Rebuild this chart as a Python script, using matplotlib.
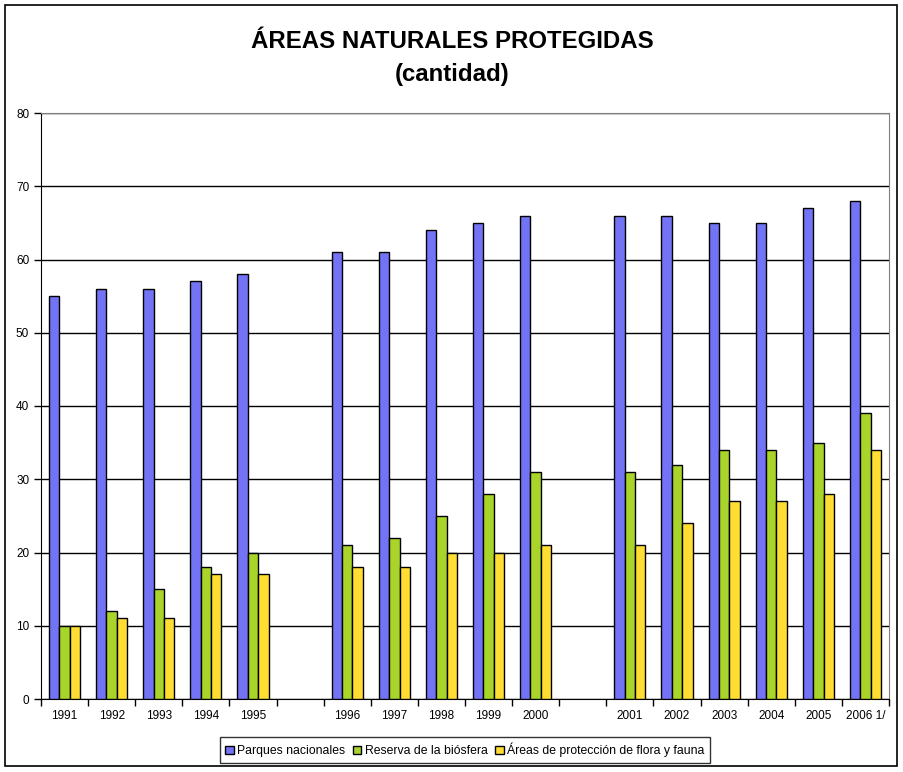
import numpy as np
import matplotlib.pyplot as plt
from matplotlib.patches import Rectangle

plt.rcParams['font.family'] = ['Liberation Sans', 'DejaVu Sans']

# empty strings are the blank slots between the year groups
years = ['1991', '1992', '1993', '1994', '1995', '',
         '1996', '1997', '1998', '1999', '2000', '',
         '2001', '2002', '2003', '2004', '2005', '2006 1/']
parques = [55, 56, 56, 57, 58, None, 61, 61, 64, 65, 66, None,
           66, 66, 65, 65, 67, 68]
reserva = [10, 12, 15, 18, 20, None, 21, 22, 25, 28, 31, None,
           31, 32, 34, 34, 35, 39]
flora = [10, 11, 11, 17, 17, None, 18, 18, 20, 20, 21, None,
         21, 24, 27, 27, 28, 34]

series = [
    ('Parques nacionales', parques, '#7373F5'),
    ('Reserva de la biósfera', reserva, '#A9D42A'),
    ('Áreas de protección de flora y fauna', flora, '#FFDD33'),
]

W, H = 904, 772
fig = plt.figure(figsize=(W / 100, H / 100), dpi=100)
ax = fig.add_axes([41 / W, 1 - 699 / H, (889 - 41) / W, (699 - 113) / H])

x = np.arange(len(years))
bw = 0.22
for i, (name, vals, color) in enumerate(series):
    xs = [xi + (i - 1) * bw for xi, v in zip(x, vals) if v is not None]
    vs = [v for v in vals if v is not None]
    ax.bar(xs, vs, bw, color=color, edgecolor='black', linewidth=1.0,
           label=name, zorder=3)

ax.set_xlim(-0.5, len(years) - 0.5)
ax.set_ylim(0, 80)
ax.set_yticks(range(0, 81, 10))
ax.yaxis.grid(True, color='black', linewidth=1.0, zorder=0)
ax.set_xticks(x)
ax.set_xticklabels(years, fontsize=8.5)
ax.set_xticks(np.arange(-0.5, len(years), 1), minor=True)
ax.tick_params(axis='x', which='major', length=0, pad=8)
ax.tick_params(axis='x', which='minor', length=5, width=1, direction='out')
ax.tick_params(axis='y', labelsize=8.5, length=5, width=1, direction='out')

for s in ('top', 'right'):
    ax.spines[s].set_color('#808080')
for s in ('left', 'bottom'):
    ax.spines[s].set_color('black')

fig.text(0.5, 1 - 42 / H, 'ÁREAS NATURALES PROTEGIDAS', ha='center',
         va='center', fontsize=17.3, fontweight='bold')
fig.text(0.5, 1 - 75 / H, '(cantidad)', ha='center', va='center',
         fontsize=17.3, fontweight='bold')

leg = fig.legend(loc='center', bbox_to_anchor=(465 / W, 1 - 750 / H), ncol=3,
                 fontsize=8.8, frameon=True, fancybox=False, edgecolor='black',
                 handlelength=0.7, handleheight=0.7, handletextpad=0.3,
                 columnspacing=0.6, borderpad=0.45, borderaxespad=0)
leg.get_frame().set_linewidth(1.0)

fig.patches.append(Rectangle((5 / W, 1 - 766 / H), 892 / W, 761 / H,
                             transform=fig.transFigure, fill=False,
                             edgecolor='black', linewidth=1.2))

fig.savefig('out.png', dpi=100)
